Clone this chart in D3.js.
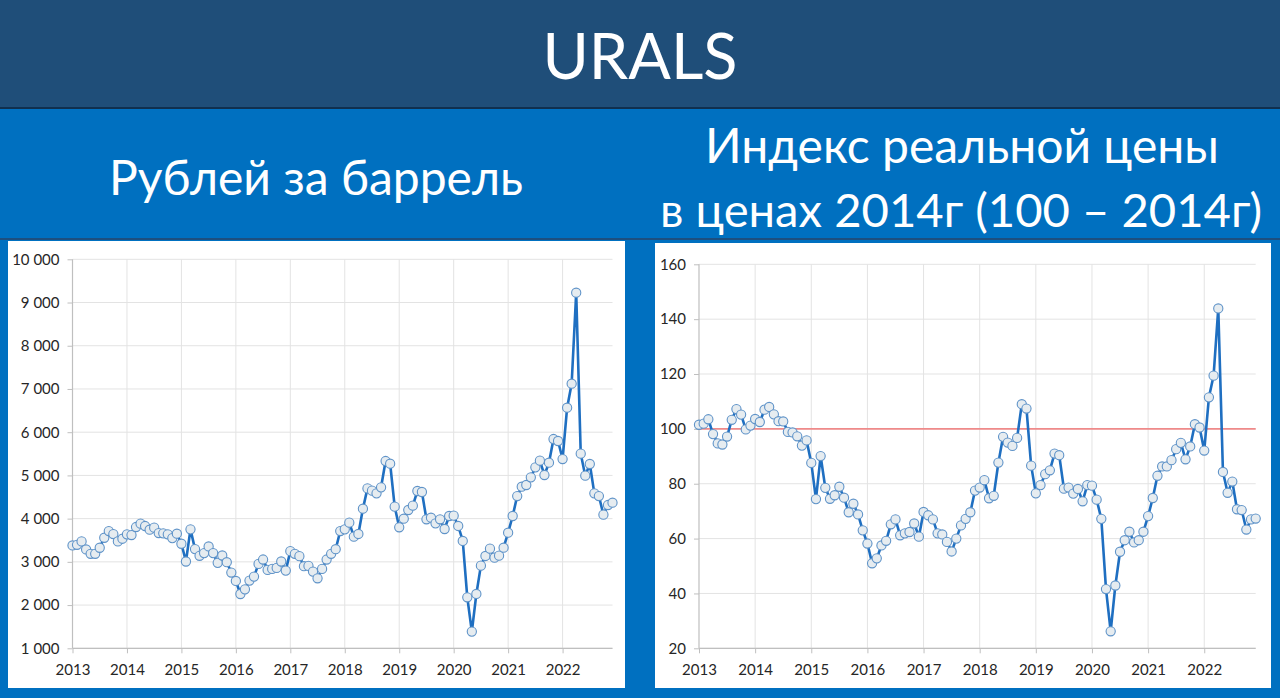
<!DOCTYPE html>
<html>
<head>
<meta charset="utf-8">
<script src="https://cdn.jsdelivr.net/npm/d3@7"></script>
<style>
  html, body { margin: 0; padding: 0; background: #0070c0; }
  svg { display: block; }
</style>
</head>
<body>
<svg id="chart" width="1280" height="698"></svg>
<script>
// ---------- DATA ----------
const title = "URALS";
const leftTitle = "Рублей за баррель";
const rightTitleLines = ["Индекс реальной цены", "в ценах 2014г (100 – 2014г)"];
const years = [2013, 2014, 2015, 2016, 2017, 2018, 2019, 2020, 2021, 2022];
const leftTicks = [1000, 2000, 3000, 4000, 5000, 6000, 7000, 8000, 9000, 10000];
const rightTicks = [20, 40, 60, 80, 100, 120, 140, 160];
const referenceLevel = 100;

// Urals, rubles per barrel, monthly Jan 2013 – Dec 2022
const rubPerBarrel = [
  3380, 3395, 3473, 3287, 3186, 3186, 3326, 3558, 3713, 3643, 3473, 3535,
  3636, 3620, 3806, 3884, 3829, 3744, 3791, 3667, 3659, 3636, 3550, 3651,
  3419, 3008, 3752, 3295, 3140, 3202, 3357, 3202, 2977, 3147, 2992, 2752,
  2558, 2256, 2364, 2566, 2659, 2953, 3054, 2814, 2837, 2860, 3008, 2798,
  3248, 3186, 3132, 2899, 2907, 2775, 2620, 2837, 3054, 3186, 3293, 3713,
  3752, 3907, 3583, 3645, 4230, 4700, 4647, 4585, 4724, 5333, 5271, 4277,
  3799, 3999, 4200, 4300, 4639, 4616, 3984, 4022, 3891, 3984, 3760, 4061,
  4069, 3830, 3483, 2180, 1386, 2257, 2912, 3136, 3305, 3097, 3143, 3328,
  3675, 4061, 4523, 4739, 4778, 4955, 5187, 5341, 5009, 5294, 5842, 5796,
  5379, 6567, 7122, 9227, 5503, 4994, 5264, 4585, 4523, 4092, 4315, 4369
];

// Real price index in 2014 prices (100 = 2014), monthly Jan 2013 – Dec 2022
const realIndex = [
  101.5, 101.9, 103.5, 98.1, 94.7, 94.3, 97.2, 103.3, 107.2, 105.2, 99.8, 101.2,
  103.6, 102.5, 107.0, 108.0, 105.3, 102.8, 102.7, 98.9, 98.7, 97.3, 93.9, 95.8,
  87.6, 74.4, 90.1, 78.5, 74.5, 75.8, 78.9, 74.9, 69.6, 72.7, 68.8, 63.0,
  58.2, 51.0, 52.8, 57.5, 59.2, 65.2, 67.0, 61.2, 61.9, 62.4, 65.5, 60.7,
  69.7, 68.5, 67.0, 61.9, 61.5, 58.8, 55.3, 60.0, 64.8, 67.2, 69.6, 77.5,
  78.6, 81.3, 74.7, 75.6, 87.7, 97.1, 95.0, 93.8, 96.7, 109.0, 107.4, 86.6,
  76.5, 79.5, 83.5, 84.9, 91.0, 90.4, 78.2, 78.6, 76.4, 78.1, 73.6, 79.5,
  79.3, 74.2, 67.2, 41.6, 26.2, 42.9, 55.2, 59.4, 62.5, 58.6, 59.4, 62.5,
  68.2, 74.8, 82.9, 86.3, 86.3, 88.6, 92.6, 94.9, 88.9, 93.6, 101.7, 100.5,
  92.1, 111.5, 119.4, 143.9, 84.3, 76.7, 80.8, 70.7, 70.4, 63.3, 67.0, 67.3
];

// ---------- DRAW ----------
const svg = d3.select("#chart");
const FONT = "Lato, 'Noto Sans', sans-serif";

// header bands
svg.append("rect").attr("x", 0).attr("y", 0).attr("width", 1280).attr("height", 108).attr("fill", "#1f4e79");
svg.append("rect").attr("x", 0).attr("y", 107).attr("width", 1280).attr("height", 2).attr("fill", "#10304f");
svg.append("rect").attr("x", 0).attr("y", 109).attr("width", 1280).attr("height", 589).attr("fill", "#0070c0");
svg.append("rect").attr("x", 0).attr("y", 238).attr("width", 1280).attr("height", 2).attr("fill", "#1d4f7f");

svg.append("text").attr("x", 640).attr("y", 79).attr("text-anchor", "middle")
  .attr("fill", "#fff").attr("font-family", FONT).attr("font-size", 63).text(title);

svg.append("text").attr("x", 316).attr("y", 195).attr("text-anchor", "middle")
  .attr("fill", "#fff").attr("font-family", FONT).attr("font-size", 48).text(leftTitle);

svg.append("text").attr("x", 962).attr("y", 163).attr("text-anchor", "middle")
  .attr("fill", "#fff").attr("font-family", FONT).attr("font-size", 48).text(rightTitleLines[0]);
svg.append("text").attr("x", 961).attr("y", 227).attr("text-anchor", "middle")
  .attr("fill", "#fff").attr("font-family", FONT).attr("font-size", 47)
  .attr("textLength", 602).attr("lengthAdjust", "spacingAndGlyphs").text(rightTitleLines[1]);

// panels
svg.append("rect").attr("x", 8).attr("y", 241).attr("width", 617).attr("height", 447).attr("fill", "#fff");
svg.append("rect").attr("x", 655).attr("y", 243).attr("width", 616).attr("height", 445).attr("fill", "#fff");

const fmtThousands = v => d3.format(",")(v).replace(/,/g, "\u00a0");

function drawChart(cfg) {
  const g = svg.append("g");
  const x = d3.scaleLinear().domain([0, 119]).range([cfg.x0, cfg.x1]);
  const y = d3.scaleLinear().domain(cfg.domain).range([cfg.y0, cfg.y1]);
  const yearPos = years.map((yr, i) => i * 12);

  // gridlines
  g.append("g").selectAll("line.h").data(cfg.ticks).join("line")
    .attr("x1", cfg.x0).attr("x2", cfg.x1)
    .attr("y1", d => y(d)).attr("y2", d => y(d))
    .attr("stroke", "#e3e3e3").attr("stroke-width", 1);
  g.append("g").selectAll("line.v").data(yearPos.slice(1)).join("line")
    .attr("x1", d => x(d)).attr("x2", d => x(d))
    .attr("y1", cfg.y0).attr("y2", cfg.y1)
    .attr("stroke", "#e3e3e3").attr("stroke-width", 1);

  // axes
  const yAxis = d3.axisLeft(y).tickValues(cfg.ticks).tickSize(5).tickPadding(8)
    .tickFormat(cfg.format);
  const ya = g.append("g").attr("transform", `translate(${cfg.x0},0)`).call(yAxis);
  const xAxis = d3.axisBottom(x).tickValues(yearPos).tickSize(5).tickPadding(11)
    .tickFormat((d, i) => years[i]);
  const xa = g.append("g").attr("transform", `translate(0,${cfg.y0})`).call(xAxis);
  [ya, xa].forEach(a => {
    a.select(".domain").attr("stroke", "#bfbfbf").attr("stroke-width", 1.2);
    a.selectAll(".tick line").attr("stroke", "#bfbfbf");
    a.selectAll(".tick text").attr("fill", "#262626").attr("font-family", FONT).attr("font-size", 15);
  });
  ya.select(".domain").attr("d", `M0,${cfg.y0}V${cfg.y1}`);
  xa.select(".domain").attr("d", `M${cfg.x0},0H${cfg.x1}`);

  // reference line
  if (cfg.ref !== undefined) {
    g.append("line").attr("x1", cfg.x0).attr("x2", cfg.x1)
      .attr("y1", y(cfg.ref)).attr("y2", y(cfg.ref))
      .attr("stroke", "#ef8a8a").attr("stroke-width", 1.6);
  }

  // series line
  const line = d3.line().x((d, i) => x(i)).y(d => y(d));
  g.append("path").datum(cfg.values).attr("d", line)
    .attr("fill", "none").attr("stroke", "#1f6fc1").attr("stroke-width", 2.6)
    .attr("stroke-linejoin", "round");

  // markers
  g.append("g").selectAll("circle").data(cfg.values).join("circle")
    .attr("cx", (d, i) => x(i)).attr("cy", d => y(d)).attr("r", 4.6)
    .attr("fill", "#e6ecf0").attr("stroke", "#5f93c8").attr("stroke-width", 1.1);
}

drawChart({
  values: rubPerBarrel, domain: [1000, 10000], ticks: leftTicks,
  x0: 72.5, x1: 612.5, y0: 648.3, y1: 259.3, format: fmtThousands
});
drawChart({
  values: realIndex, domain: [20, 160], ticks: rightTicks,
  x0: 699, x1: 1255.7, y0: 648.3, y1: 264.3, format: d3.format("d"), ref: referenceLevel
});
</script>
</body>
</html>
